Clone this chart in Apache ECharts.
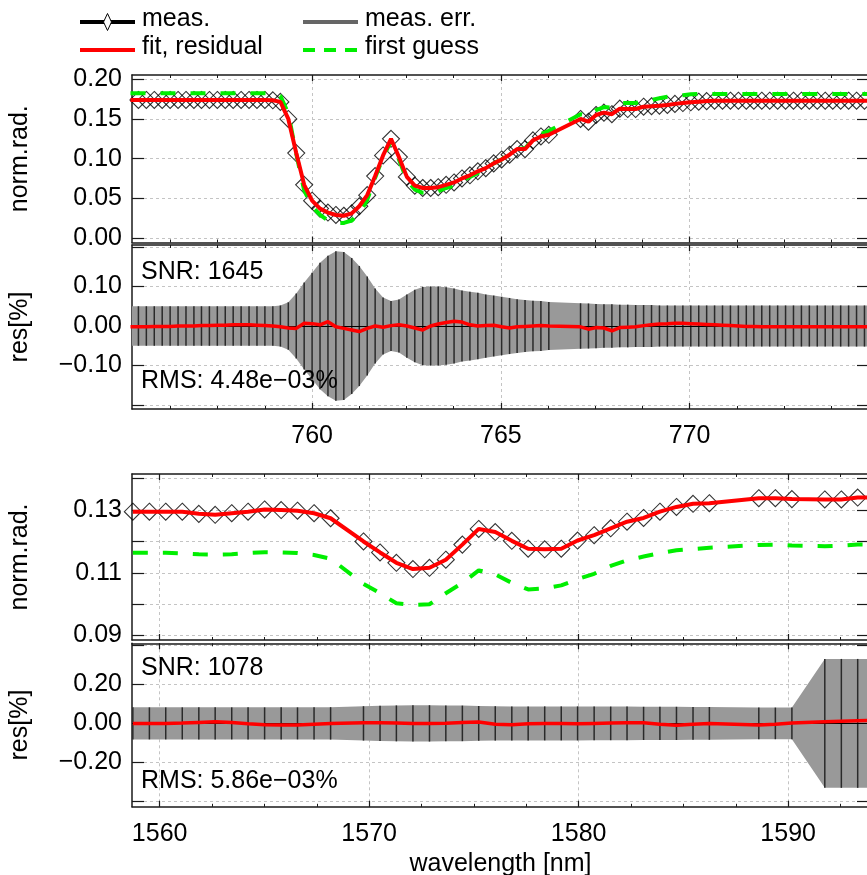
<!DOCTYPE html>
<html>
<head>
<meta charset="utf-8">
<script src="https://cdn.jsdelivr.net/npm/echarts@6/dist/echarts.min.js"></script>
<style>
  html, body { margin: 0; padding: 0; background: #fff; }
  #chart { width: 867px; height: 875px; }
</style>
</head>
<body>
<div id="chart"></div>
<script>
// ---- O2 A-band window (nm) ----
const wlA = [755.19,755.40,755.61,755.82,756.03,756.24,756.45,756.66,756.87,757.07,757.28,757.49,757.70,757.91,758.12,758.33,758.54,758.75,758.96,759.16,759.37,759.58,759.79,760.00,760.21,760.42,760.63,760.84,761.05,761.25,761.46,761.67,761.88,762.09,762.30,762.51,762.72,762.93,763.14,763.34,763.55,763.76,763.97,764.18,764.39,764.60,764.81,765.02,765.23,765.43,765.64,765.85,766.06,766.27,
  767.11,767.32,767.52,767.73,767.94,768.15,768.36,768.57,768.78,768.99,769.20,769.41,769.61,769.82,770.03,770.24,770.45,770.66,770.87,771.08,771.29,771.50,771.70,771.91,772.12,772.33,772.54,772.75,772.96,773.17,773.38,773.59,773.79,774.00,774.21,774.42,774.63,774.84];
const measA = [0.174,0.174,0.174,0.174,0.174,0.174,0.174,0.174,0.174,0.174,0.174,0.174,0.174,0.174,0.174,0.174,0.174,0.174,
  0.1735,0.1715,0.150,0.107,0.067,0.047,0.037,0.032,0.029,0.028,0.031,0.040,0.054,0.078,0.104,0.125,0.102,0.077,0.066,0.063,0.063,0.064,0.067,0.070,0.075,0.079,0.084,0.088,0.094,0.099,0.105,0.112,0.112,0.123,0.128,0.130,
  0.150,0.1466,0.155,0.158,0.156,0.163,0.1625,0.1625,0.1655,0.166,0.1667,0.1677,0.169,0.170,0.171,
  0.1718,0.1725,0.173,0.173,0.173,0.173,0.173,0.173,0.173,0.173,0.173,0.173,0.173,0.173,0.173,0.173,0.173,0.173,0.173,0.173,0.173,0.173,0.173];
const fitA = [0.174,0.174,0.174,0.174,0.174,0.174,0.174,0.174,0.174,0.174,0.174,0.174,0.174,0.174,0.174,0.174,0.174,0.174,
  0.1735,0.1715,0.150,0.107,0.067,0.047,0.037,0.032,0.029,0.028,0.031,0.040,0.054,0.078,0.104,0.125,0.102,0.077,0.066,0.063,0.063,0.064,0.067,0.070,0.075,0.079,0.084,0.088,0.094,0.099,0.105,0.112,0.112,0.123,0.128,0.130,
  0.150,0.1466,0.155,0.158,0.156,0.163,0.1625,0.1625,0.1655,0.166,0.1667,0.1677,0.169,0.170,0.171,
  0.1718,0.1725,0.173,0.173,0.173,0.173,0.173,0.173,0.173,0.173,0.173,0.173,0.173,0.173,0.173,0.173,0.173,0.173,0.173,0.173,0.173,0.173,0.173];
const guessA = [0.1823,0.1823,0.1823,0.1823,0.1823,0.1823,0.1823,0.1823,0.1823,0.1823,0.1823,0.1823,0.1823,0.1823,0.1823,0.1823,0.1823,0.1823,0.1823,
  0.179,0.157,0.106,0.060,0.040,0.029,0.022,0.019,0.019,0.022,0.031,0.048,0.076,0.102,0.122,0.099,0.073,0.061,0.057,0.057,0.059,0.063,0.066,0.072,0.077,0.082,0.088,0.094,0.099,0.106,0.112,0.113,0.124,0.131,0.135,
  0.156,0.154,0.161,0.165,0.164,0.170,0.170,0.170,0.173,0.174,0.176,0.178,0.179,0.180,0.181,
  0.1815,0.1815,0.1815,0.1815,0.1815,0.1815,0.1815,0.1815,0.1815,0.1815,0.1815,0.1815,0.1815,0.1815,0.1815,0.1815,0.1815,0.1815,0.1815,0.1815,0.1815,0.1815,0.1815];
const resA = [-0.002,-0.002,-0.002,-0.001,-0.001,-0.001,0,0,0,0.001,0.001,0.002,0.002,0.003,0.003,0.003,0.002,0.001,0,
  -0.002,-0.005,-0.006,0.007,0.006,0.003,0.011,-0.002,-0.006,-0.010,-0.014,-0.006,0.000,-0.003,0.001,0.003,0.000,-0.005,-0.010,0.000,0.005,0.009,0.012,0.010,0.003,0.000,0.001,0.002,-0.002,-0.005,-0.002,-0.001,0.000,0.001,0.000,
  -0.002,-0.008,-0.004,-0.005,-0.012,-0.004,-0.003,-0.002,0.001,0.003,0.005,0.006,0.007,0.007,0.006,
  0.005,0.004,0.003,0.002,0.001,0,-0.001,-0.001,-0.002,-0.002,-0.002,-0.002,-0.002,-0.002,-0.002,-0.002,-0.002,-0.002,-0.002,-0.002,-0.002,-0.002,-0.002];
const errA = [0.050,0.050,0.050,0.050,0.050,0.050,0.050,0.050,0.050,0.050,0.050,0.050,0.050,0.050,0.050,0.050,0.050,0.050,0.050,
  0.052,0.060,0.082,0.110,0.135,0.160,0.178,0.189,0.187,0.172,0.152,0.125,0.095,0.072,0.063,0.067,0.080,0.092,0.099,0.100,0.100,0.098,0.095,0.090,0.087,0.084,0.080,0.077,0.074,0.071,0.068,0.066,0.064,0.063,0.061,
  0.0575,0.057,0.056,0.055,0.055,0.054,0.054,0.053,0.053,0.053,0.052,0.052,0.052,0.052,0.052,
  0.052,0.052,0.052,0.052,0.052,0.052,0.052,0.052,0.052,0.052,0.052,0.052,0.052,0.052,0.052,0.052,0.052,0.052,0.052,0.052,0.052,0.052,0.052];

// ---- 1.6 um CO2 window (nm) ----
const wlB = [1558.72,1559.51,1560.29,1561.08,1561.87,1562.65,1563.44,1564.22,1565.01,1565.80,1566.58,1567.37,1568.16,
  1569.73,1570.52,1571.30,1572.09,1572.88,1573.66,1574.45,1575.23,1576.02,1576.81,1577.59,1578.38,1579.17,1579.95,1580.74,1581.53,1582.31,1583.10,1583.88,1584.67,1585.46,1586.24,
  1588.60,1589.39,1590.18,
  1591.75,1592.54,1593.32,1594.11];
const measB = [0.1295,0.1295,0.1295,0.1295,0.1288,0.1285,0.1290,0.1295,0.1302,0.1300,0.1298,0.1290,0.1274,
  0.1200,0.1165,0.1132,0.1112,0.1116,0.1142,0.1190,0.1240,0.1230,0.1202,0.1177,0.1175,0.1177,0.1203,0.1220,0.1242,0.1263,0.1275,0.1295,0.1310,0.1320,0.1322,
  0.1338,0.1338,0.1335,
  0.1334,0.1334,0.1340,0.1340];
const fitB = [0.1295,0.1295,0.1295,0.1295,0.1288,0.1285,0.1290,0.1295,0.1302,0.1300,0.1298,0.1290,0.1274,
  0.1200,0.1165,0.1132,0.1112,0.1116,0.1142,0.1190,0.1240,0.1230,0.1202,0.1177,0.1175,0.1177,0.1203,0.1220,0.1242,0.1263,0.1275,0.1295,0.1310,0.1320,0.1322,
  0.1338,0.1338,0.1335,
  0.1334,0.1334,0.1340,0.1340];
const guessB = [0.1164,0.1164,0.1164,0.1162,0.1159,0.1158,0.1159,0.1163,0.1166,0.1165,0.1163,0.1157,0.1145,
  0.1065,0.1035,0.1003,0.0998,0.1000,0.1035,0.1068,0.1108,0.1095,0.1068,0.1047,0.1050,0.1060,0.1080,0.1097,0.1122,0.1140,0.1152,0.1163,0.1172,0.1176,0.1180,
  0.1189,0.1190,0.1187,
  0.1185,0.1187,0.1190,0.1190];
const resB = [0.000,-0.001,0.000,0.002,0.005,0.008,0.004,-0.002,-0.007,-0.008,-0.008,-0.004,0.000,
  0.003,0.003,0.002,0.000,0.000,0.001,0.004,0.007,-0.004,-0.007,-0.002,0.000,0.000,-0.002,0.000,0.002,0.003,0.003,-0.005,-0.010,-0.004,0.000,
  -0.008,-0.005,0.002,
  0.008,0.011,0.014,0.015];
const errB = [0.082,0.082,0.082,0.082,0.082,0.082,0.082,0.082,0.082,0.082,0.082,0.082,0.083,
  0.088,0.090,0.092,0.093,0.093,0.092,0.091,0.089,0.088,0.087,0.087,0.087,0.087,0.087,0.086,0.086,0.086,0.085,0.085,0.085,0.084,0.084,
  0.081,0.081,0.081,
  0.330,0.330,0.330,0.330];

// ---- tick values ----
const xTicksA = [760, 765, 770];
const xTicksB = [1560, 1570, 1580, 1590];
const radTicksA = [0, 0.05, 0.10, 0.15, 0.20];
const radLabelsA = [0, 0.05, 0.10, 0.15, 0.20];
const resTicksA = [-0.2, -0.1, 0, 0.1, 0.2];
const resLabelsA = [-0.1, 0, 0.1];
const radTicksB = [0.09, 0.10, 0.11, 0.12, 0.13, 0.14];
const radLabelsB = [0.09, 0.11, 0.13];
const resTicksB = [-0.4, -0.2, 0, 0.2, 0.4];
const resLabelsB = [-0.2, 0, 0.2];

const FONT = "'Liberation Sans', Arial, Helvetica, sans-serif";
const FS = 25;
const AXC = '#1a1a1a';
const GRIDLINE = { show: true, lineStyle: { color: '#c4c4c4', width: 1, type: [3, 3] } };
const RED = '#ff0000', GREEN = '#00ee00';

const pairs = (xs, ys) => xs.map((x, i) => [x, ys[i]]);
const fmt = v => (v < 0 ? '\u2212' : '') + Math.abs(v).toFixed(2);
const fmtX = v => String(Math.round(v));

function xAxisPair(grid, min, max, ticks, labels, name) {
  const base = {
    type: 'value', gridIndex: grid, min, max, splitNumber: 4,
    axisLine: { show: true, onZero: false, lineStyle: { color: AXC, width: 1.5 } },
    axisTick: { show: true, inside: true, length: 6, customValues: ticks, lineStyle: { color: AXC, width: 1.2 } },
    minorTick: { show: true, splitNumber: 4, length: 3, lineStyle: { color: AXC, width: 1 } },
    minorSplitLine: { show: false }
  };
  const bottom = Object.assign({}, base, {
    position: 'bottom',
    axisLabel: { show: labels, customValues: ticks, formatter: fmtX, margin: 15, fontSize: FS, fontFamily: FONT, color: '#000' },
    splitLine: GRIDLINE
  });
  if (name) {
    Object.assign(bottom, { name, nameLocation: 'middle', nameGap: 45,
      nameTextStyle: { fontSize: FS, fontFamily: FONT, color: '#000' } });
  }
  const top = Object.assign({}, base, { position: 'top', axisLabel: { show: false }, splitLine: { show: false } });
  return [bottom, top];
}

function yAxisPair(grid, min, max, ticks, labels, name) {
  const base = {
    type: 'value', gridIndex: grid, min, max,
    axisLine: { show: true, onZero: false, lineStyle: { color: AXC, width: 1.5 } },
    axisTick: { show: true, inside: true, length: 12, customValues: ticks, lineStyle: { color: AXC, width: 1.2 } }
  };
  const left = Object.assign({}, base, {
    position: 'left',
    axisLabel: { customValues: labels, formatter: fmt, margin: 10, fontSize: FS, fontFamily: FONT, color: '#000' },
    splitLine: GRIDLINE,
    name, nameLocation: 'middle', nameGap: 99,
    nameTextStyle: { fontSize: FS, fontFamily: FONT, color: '#000' }
  });
  const right = Object.assign({}, base, { position: 'right', axisLabel: { show: false }, splitLine: { show: false } });
  return [left, right];
}

function spectrumSeries(ax, wl, meas, fit, guess) {
  return [
    { type: 'scatter', xAxisIndex: ax, yAxisIndex: ax, data: pairs(wl, meas), symbol: 'diamond', symbolSize: 17,
      itemStyle: { color: 'rgba(255,255,255,0)', borderColor: '#000', borderWidth: 1.1 }, z: 2, clip: true, silent: true },
    { type: 'line', xAxisIndex: ax, yAxisIndex: ax, data: pairs(wl, guess), showSymbol: false, symbol: 'none',
      lineStyle: { color: GREEN, width: 4, type: [15, 15] }, z: 3, clip: true, silent: true },
    { type: 'line', xAxisIndex: ax, yAxisIndex: ax, data: pairs(wl, fit), showSymbol: false, symbol: 'none',
      lineStyle: { color: RED, width: 4 }, z: 4, clip: true, silent: true }
  ];
}

function residualSeries(ax, wl, res, err) {
  return [
    { // error envelope
      type: 'custom', xAxisIndex: ax, yAxisIndex: ax, data: pairs(wl, err), z: 1, silent: true,
      renderItem(params, api) {
        if (params.dataIndex !== 0) return null;
        const up = wl.map((x, i) => api.coord([x, err[i]]));
        const lo = wl.map((x, i) => api.coord([x, -err[i]])).reverse();
        const cs = params.coordSys;
        return { type: 'polygon', shape: { points: up.concat(lo) }, style: { fill: '#999999' },
          clipPath: { type: 'rect', shape: { x: cs.x, y: cs.y, width: cs.width, height: cs.height } } };
      }
    },
    { // error bars
      type: 'custom', xAxisIndex: ax, yAxisIndex: ax, data: pairs(wl, err), z: 2, silent: true,
      renderItem(params, api) {
        const x = api.value(0), e = api.value(1);
        const cs = params.coordSys;
        const p1 = api.coord([x, e]), p2 = api.coord([x, -e]);
        if (p1[0] < cs.x || p1[0] > cs.x + cs.width) return null;
        return { type: 'line', shape: { x1: p1[0], y1: p1[1], x2: p2[0], y2: p2[1] },
          style: { stroke: '#2a2a2a', lineWidth: 1.5 } };
      }
    },
    { type: 'line', xAxisIndex: ax, yAxisIndex: ax, data: pairs(wl, res), showSymbol: false, symbol: 'none',
      lineStyle: { color: RED, width: 3.5 }, z: 4, clip: true, silent: true,
      markLine: { silent: true, symbol: 'none', z: 3, label: { show: false },
        lineStyle: { color: '#000', width: 1, type: 'solid' }, data: [{ yAxis: 0 }] } }
  ];
}

const grids = [
  { left: 132, right: -2, top: 75, height: 167.5 },
  { left: 132, right: -2, top: 245, height: 164 },
  { left: 132, right: -2, top: 474, height: 166 },
  { left: 132, right: -2, top: 643.3, height: 163.5 }
].map(g => Object.assign(g, { containLabel: false, outerBoundsMode: 'none' }));

const xAxes = [].concat(
  xAxisPair(0, 755.23, 774.75, xTicksA, false),
  xAxisPair(1, 755.23, 774.75, xTicksA, true),
  xAxisPair(2, 1558.68, 1593.86, xTicksB, false),
  xAxisPair(3, 1558.68, 1593.86, xTicksB, true, 'wavelength [nm]')
);
const yAxes = [].concat(
  yAxisPair(0, -0.0057, 0.2054, radTicksA, radLabelsA, 'norm.rad.'),
  yAxisPair(1, -0.21, 0.205, resTicksA, resLabelsA, 'res[%]'),
  yAxisPair(2, 0.0886, 0.1415, radTicksB, radLabelsB, 'norm.rad.'),
  yAxisPair(3, -0.427, 0.41, resTicksB, resLabelsB, 'res[%]')
);

// each panel's data is bound to its bottom x axis and left y axis (indices 0, 2, 4, 6)
const series = [].concat(
  spectrumSeries(0, wlA, measA, fitA, guessA),
  residualSeries(2, wlA, resA, errA),
  spectrumSeries(4, wlB, measB, fitB, guessB),
  residualSeries(6, wlB, resB, errB)
);

const txt = (x, y, text) => ({ type: 'text', x, y, z: 100, silent: true,
  style: { text, fill: '#000', font: FS + 'px ' + FONT, verticalAlign: 'middle', align: 'left' } });

const graphic = [
  { type: 'line', z: 100, shape: { x1: 80, y1: 22, x2: 135, y2: 22 }, style: { stroke: '#000', lineWidth: 4 } },
  { type: 'polygon', z: 101, shape: { points: [[107.5, 13.5], [111.5, 22], [107.5, 30.5], [103.5, 22]] },
    style: { fill: '#fff', stroke: '#000', lineWidth: 1 } },
  txt(142, 19, 'meas.'),
  { type: 'line', z: 100, shape: { x1: 80, y1: 50, x2: 135, y2: 50 }, style: { stroke: RED, lineWidth: 4 } },
  txt(142, 47, 'fit, residual'),
  { type: 'line', z: 100, shape: { x1: 303, y1: 22, x2: 358, y2: 22 }, style: { stroke: '#666', lineWidth: 4 } },
  txt(365, 19, 'meas. err.'),
  { type: 'line', z: 100, shape: { x1: 303, y1: 50, x2: 358, y2: 50 }, style: { stroke: GREEN, lineWidth: 4, lineDash: [12, 9] } },
  txt(365, 47, 'first guess'),
  txt(141, 272, 'SNR: 1645'),
  txt(141, 381, 'RMS: 4.48e\u221203%'),
  txt(141, 668.5, 'SNR: 1078'),
  txt(141, 781, 'RMS: 5.86e\u221203%')
];

const chart = echarts.init(document.getElementById('chart'), null, { renderer: 'canvas' });
chart.setOption({
  backgroundColor: '#ffffff',
  animation: false,
  textStyle: { fontFamily: FONT },
  grid: grids,
  xAxis: xAxes,
  yAxis: yAxes,
  series,
  graphic
});
</script>
</body>
</html>
